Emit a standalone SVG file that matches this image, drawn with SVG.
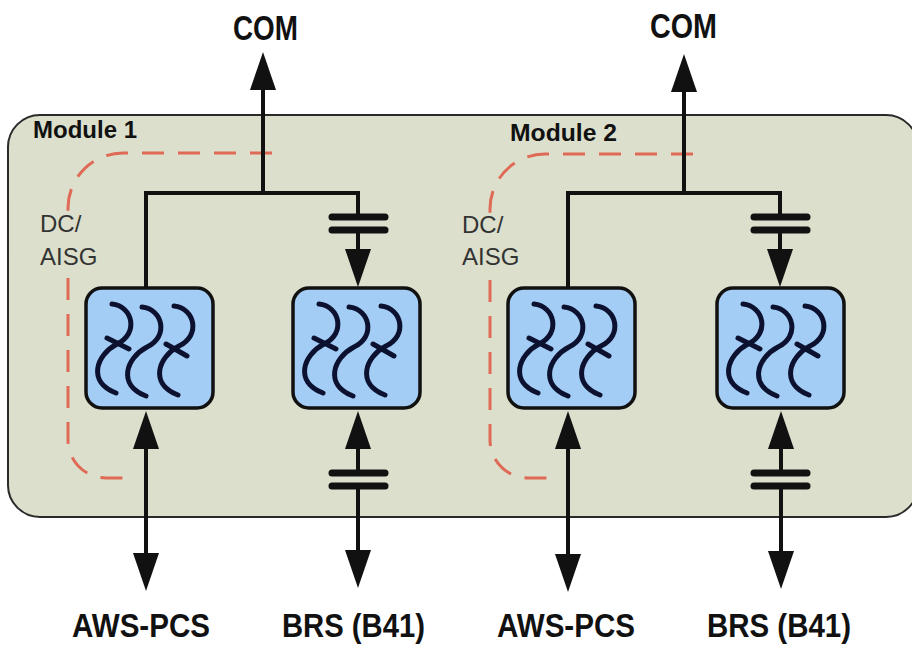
<svg xmlns="http://www.w3.org/2000/svg" xmlns:xlink="http://www.w3.org/1999/xlink" width="912" height="648" viewBox="0 0 912 648">
<style>
.lbl{font-family:"Liberation Sans",Arial,sans-serif;font-weight:bold;fill:#111;}
.mod{font-family:"Liberation Sans",Arial,sans-serif;font-weight:bold;font-size:23px;fill:#111;}
.dc{font-family:"Liberation Sans",Arial,sans-serif;font-size:24px;fill:#333;}
.wire{fill:none;stroke:#111;stroke-width:4;}
.plate{stroke:#111;stroke-width:7;stroke-linecap:round;}
.dash{fill:none;stroke:#df6a55;stroke-width:3;stroke-dasharray:22 14;}
.fbox{fill:#a3cdf5;stroke:#111;stroke-width:3.5;}
.curve{fill:none;stroke:#0d1130;stroke-width:5;stroke-linecap:round;}
</style>
<defs>
<marker id="ah" markerUnits="userSpaceOnUse" markerWidth="40" markerHeight="28" refX="1" refY="13" orient="auto-start-reverse">
<path d="M0,0 L38,13 L0,26 Z" fill="#111"/>
</marker>
<g id="curves">
<path id="sc" class="curve" d="M26,16 C47,18 53,46 31,56 C10,67 1,94 30,105"/>
<path class="curve" d="M21,50 L43,61"/>
<use xlink:href="#sc" href="#sc" transform="translate(30,3)"/>
<use xlink:href="#sc" href="#sc" transform="translate(62,2)"/>
<path class="curve" d="M80,56 L101,68"/>
</g>
</defs>

<g id="module-box">
<rect x="8" y="115" width="910" height="402" rx="32" fill="#dcdfcc" stroke="#2a2a2a" stroke-width="2"/>
<text class="mod" x="33" y="138" textLength="104" lengthAdjust="spacingAndGlyphs">Module 1</text>
<text class="mod" x="510" y="141" textLength="107" lengthAdjust="spacingAndGlyphs">Module 2</text>
</g>

<g id="dc-aisg">
<path class="dash" d="M272,153 H123 A55,55 0 0 0 68,208 V213"/>
<path class="dash" d="M68,278 V440 A38,38 0 0 0 106,478 H135"/>
<text class="dc" x="40" y="232">DC/</text>
<text class="dc" x="40" y="265">AISG</text>
<path class="dash" d="M693,154 H545 A55,55 0 0 0 490,209 V213"/>
<path class="dash" d="M490,280 V440 A38,38 0 0 0 528,478 H557"/>
<text class="dc" x="462" y="233">DC/</text>
<text class="dc" x="462" y="265">AISG</text>
</g>

<g id="connectors">
<!-- Module 1 -->
<line class="wire" x1="263" y1="195" x2="263" y2="89" marker-end="url(#ah)"/>
<path class="wire" d="M146,288 V193 H358 V218"/>
<line class="plate" x1="332" y1="217" x2="385" y2="217"/>
<line class="plate" x1="332" y1="230" x2="385" y2="230"/>
<line class="wire" x1="358" y1="230" x2="358" y2="250" marker-end="url(#ah)"/>
<line class="wire" x1="146" y1="448" x2="146" y2="554" marker-start="url(#ah)" marker-end="url(#ah)"/>
<line class="wire" x1="358" y1="448" x2="358" y2="474" marker-start="url(#ah)"/>
<line class="plate" x1="332" y1="473" x2="385" y2="473"/>
<line class="plate" x1="332" y1="486" x2="385" y2="486"/>
<line class="wire" x1="358" y1="486" x2="358" y2="551" marker-end="url(#ah)"/>
<!-- Module 2 -->
<line class="wire" x1="684" y1="195" x2="684" y2="91" marker-end="url(#ah)"/>
<path class="wire" d="M568,288 V193 H780 V218"/>
<line class="plate" x1="754" y1="217" x2="807" y2="217"/>
<line class="plate" x1="754" y1="230" x2="807" y2="230"/>
<line class="wire" x1="780" y1="230" x2="780" y2="250" marker-end="url(#ah)"/>
<line class="wire" x1="568" y1="448" x2="568" y2="555" marker-start="url(#ah)" marker-end="url(#ah)"/>
<line class="wire" x1="781" y1="448" x2="781" y2="474" marker-start="url(#ah)"/>
<line class="plate" x1="754" y1="473" x2="807" y2="473"/>
<line class="plate" x1="754" y1="486" x2="807" y2="486"/>
<line class="wire" x1="781" y1="486" x2="781" y2="552" marker-end="url(#ah)"/>
</g>

<g id="filter1" transform="translate(86,288)"><rect class="fbox" x="0" y="0" width="127" height="120" rx="16"/><use xlink:href="#curves" href="#curves"/></g>
<g id="filter2" transform="translate(293,288)"><rect class="fbox" x="0" y="0" width="127" height="120" rx="16"/><use xlink:href="#curves" href="#curves"/></g>
<g id="filter3" transform="translate(508,288)"><rect class="fbox" x="0" y="0" width="127" height="120" rx="16"/><use xlink:href="#curves" href="#curves"/></g>
<g id="filter4" transform="translate(717,288)"><rect class="fbox" x="0" y="0" width="127" height="120" rx="16"/><use xlink:href="#curves" href="#curves"/></g>

<g id="labels">
<text class="lbl" x="233" y="40" font-size="35" textLength="65" lengthAdjust="spacingAndGlyphs">COM</text>
<text class="lbl" x="650" y="38" font-size="35" textLength="67" lengthAdjust="spacingAndGlyphs">COM</text>
<text class="lbl" x="72" y="637" font-size="33" textLength="138" lengthAdjust="spacingAndGlyphs">AWS-PCS</text>
<text class="lbl" x="282" y="637" font-size="33" textLength="143" lengthAdjust="spacingAndGlyphs">BRS (B41)</text>
<text class="lbl" x="497" y="637" font-size="33" textLength="138" lengthAdjust="spacingAndGlyphs">AWS-PCS</text>
<text class="lbl" x="707" y="637" font-size="33" textLength="144" lengthAdjust="spacingAndGlyphs">BRS (B41)</text>
</g>
</svg>
